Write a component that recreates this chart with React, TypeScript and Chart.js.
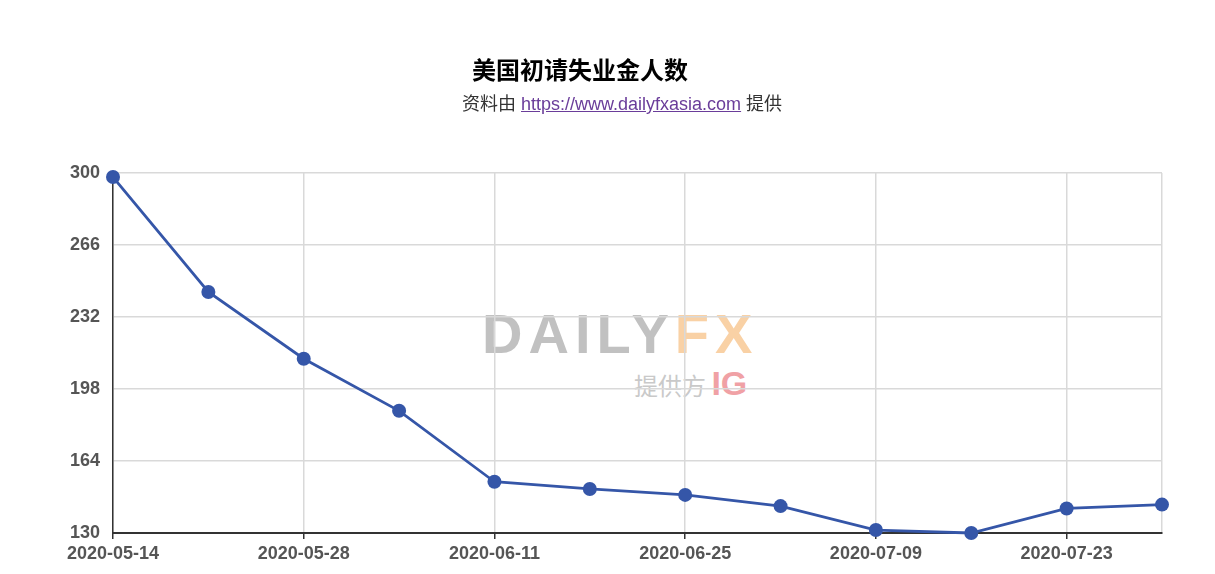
import React, { useEffect, useRef } from "react";
import { Chart, registerables } from "chart.js";

Chart.register(...registerables);

const categories = [
  "2020-05-14", "2020-05-21", "2020-05-28", "2020-06-04",
  "2020-06-11", "2020-06-18", "2020-06-25", "2020-07-02",
  "2020-07-09", "2020-07-16", "2020-07-23", "2020-07-30",
];
const claims = [298.1, 243.8, 212.3, 187.7, 154.2, 150.8, 148.0, 142.7, 131.4, 130.0, 141.6, 143.4];
const yTicks = [130, 164, 198, 232, 266, 300];

const TICK_FONT = { family: "'Liberation Sans', Arial, sans-serif", size: 18, weight: "bold" as const };

export default function App() {
  const ref = useRef<HTMLCanvasElement | null>(null);

  useEffect(() => {
    if (!ref.current) return;
    const last = categories.length - 1;
    const chart = new Chart(ref.current, {
      type: "line",
      data: {
        labels: categories,
        datasets: [
          {
            label: "美国初请失业金人数",
            data: claims,
            borderColor: "#3556a8",
            backgroundColor: "#3556a8",
            borderWidth: 2.8,
            pointRadius: 7,
            pointHoverRadius: 7,
            pointBorderWidth: 0,
            tension: 0,
            clip: false as any,
          },
        ],
      },
      options: {
        animation: false,
        responsive: false,
        maintainAspectRatio: false,
        layout: { padding: { top: 173, right: 53, bottom: 0, left: 0 } },
        plugins: {
          legend: { display: false },
          tooltip: { enabled: false },
          title: { display: false },
        },
        scales: {
          x: {
            offset: false,
            afterFit: (scale: any) => {
              scale.height = 41;
            },
            border: { color: "#333", width: 2 },
            grid: {
              color: (ctx: any) =>
                ctx.index % 2 === 0 || ctx.index === last ? "#d9d9d9" : "rgba(0,0,0,0)",
              tickColor: (ctx: any) => (ctx.index % 2 === 0 ? "#333" : "rgba(0,0,0,0)"),
              tickLength: 6,
              lineWidth: 1.5,
            },
            ticks: {
              autoSkip: false,
              maxRotation: 0,
              minRotation: 0,
              padding: 4,
              color: "#555",
              font: TICK_FONT,
              callback: (_v: any, i: number) => (i % 2 === 0 ? categories[i] : ""),
            },
          },
          y: {
            min: yTicks[0],
            max: yTicks[yTicks.length - 1],
            afterFit: (scale: any) => {
              scale.width = 113;
            },
            afterBuildTicks: (scale: any) => {
              scale.ticks = yTicks.map((v) => ({ value: v }));
            },
            border: { color: "#333", width: 1.5 },
            grid: { color: "#d9d9d9", drawTicks: false, lineWidth: 1.5 },
            ticks: {
              padding: 13,
              color: "#555",
              font: TICK_FONT,
            },
          },
        },
      },
    });
    return () => chart.destroy();
  }, []);

  return (
    <div style={{ position: "absolute", left: 0, top: 0, width: 1215, height: 574, background: "#fff", overflow: "hidden" }}>
      {/* faint DailyFX watermark */}
      <div
        style={{
          position: "absolute",
          left: 482,
          top: 306,
          fontFamily: "'Liberation Sans', Arial, sans-serif",
          fontWeight: "bold",
          fontSize: 56,
          lineHeight: "56px",
          letterSpacing: 6,
          opacity: 0.45,
          whiteSpace: "nowrap",
        }}
      >
        <span style={{ color: "#777" }}>DAILY</span>
        <span style={{ color: "#f29a3a" }}>FX</span>
      </div>
      <div
        style={{
          position: "absolute",
          left: 634,
          top: 368,
          fontFamily: "'Noto Sans CJK SC', sans-serif",
          fontSize: 24,
          lineHeight: "30px",
          opacity: 0.45,
          whiteSpace: "nowrap",
        }}
      >
        <span style={{ color: "#888" }}>提供方 </span>
        <span style={{ color: "#e0303a", fontFamily: "'Liberation Sans', Arial, sans-serif", fontWeight: "bold", fontSize: 34 }}>IG</span>
      </div>
      <canvas ref={ref} width={1215} height={574} style={{ position: "absolute", left: 0, top: 0, width: 1215, height: 574 }} />
      <div
        style={{
          position: "absolute",
          left: 472,
          top: 57,
          fontFamily: "'Noto Sans CJK SC', sans-serif",
          fontWeight: "bold",
          fontSize: 24,
          lineHeight: "24px",
          color: "#000",
          whiteSpace: "nowrap",
        }}
      >
        美国初请失业金人数
      </div>
      <div
        style={{
          position: "absolute",
          left: 462,
          top: 95,
          fontFamily: "'Liberation Sans', Arial, 'Noto Sans CJK SC', sans-serif",
          fontSize: 18,
          lineHeight: "18px",
          color: "#333",
          whiteSpace: "nowrap",
        }}
      >
        资料由{" "}
        <a href="https://www.dailyfxasia.com" style={{ color: "#6a3d9a", textDecoration: "underline" }}>
          https://www.dailyfxasia.com
        </a>{" "}
        提供
      </div>
    </div>
  );
}
